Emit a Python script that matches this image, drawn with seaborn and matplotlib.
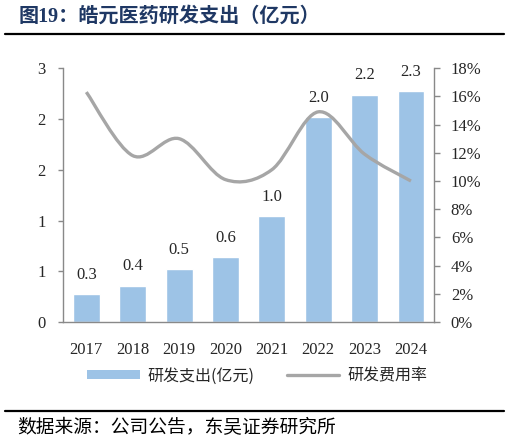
import numpy as np
import pandas as pd
import matplotlib
matplotlib.use("Agg")
import matplotlib.pyplot as plt
import seaborn as sns
from matplotlib.path import Path
from matplotlib.patches import PathPatch, Patch
from matplotlib.lines import Line2D

# data
years = ["2017", "2018", "2019", "2020", "2021", "2022", "2023", "2024"]
rd_spend = [0.28, 0.36, 0.52, 0.64, 1.04, 2.02, 2.24, 2.27]      # 亿元
rd_ratio = [0.163, 0.118, 0.130, 0.101, 0.108, 0.149, 0.119, 0.100]
left_ticks = [0, 0.5, 1.0, 1.5, 2.0, 2.5]
left_tick_labels = ["0", "1", "1", "2", "2", "3"]   # as printed (rounded) in the source
right_ticks = [0, 0.02, 0.04, 0.06, 0.08, 0.10, 0.12, 0.14, 0.16, 0.18]

sns.set_style("white")
plt.rcParams['font.family'] = ['Liberation Serif', 'Noto Sans CJK SC', 'DejaVu Sans']
cjk = ['Noto Sans CJK SC', 'DejaVu Sans']

bar_color = "#9DC3E6"
line_color = "#A6A6A6"
spine_color = "#898989"

df = pd.DataFrame({"year": years, "spend": rd_spend, "ratio": rd_ratio})

fig = plt.figure(figsize=(5.09, 4.45), dpi=100)
ax = fig.add_axes([0.124, 0.276, 0.729, 0.571])

sns.barplot(data=df, x="year", y="spend", color=bar_color, width=0.58,
            saturation=1, ax=ax)
ax.set_xlim(-0.5, 7.5)
ax.set_ylim(0, 2.5)
ax.set_yticks(left_ticks)
ax.set_yticklabels(left_tick_labels)
ax.set_xlabel("")
ax.set_ylabel("")

for i, v in enumerate(rd_spend):
    ax.annotate(f"{v:.1f}", (i, v), xytext=(0, 8), textcoords="offset points",
                ha="center", va="bottom", fontsize=12)

ax2 = ax.twinx()
ax2.set_ylim(0, 0.18)
ax2.set_yticks(right_ticks)
ax2.set_yticklabels([f"{t*100:.0f}%" for t in right_ticks])

# smoothed line (Catmull-Rom style bezier through the points, like Excel)
xs = np.arange(len(years), dtype=float)
ys = np.array(rd_ratio)
verts = [(xs[0], ys[0])]
codes = [Path.MOVETO]
for i in range(len(xs) - 1):
    p0 = (xs[max(i - 1, 0)], ys[max(i - 1, 0)])
    p1 = (xs[i], ys[i])
    p2 = (xs[i + 1], ys[i + 1])
    p3 = (xs[min(i + 2, len(xs) - 1)], ys[min(i + 2, len(xs) - 1)])
    c1 = (p1[0] + (p2[0] - p0[0]) / 6, p1[1] + (p2[1] - p0[1]) / 6)
    c2 = (p2[0] - (p3[0] - p1[0]) / 6, p2[1] - (p3[1] - p1[1]) / 6)
    verts += [c1, c2, p2]
    codes += [Path.CURVE4] * 3
ax2.add_patch(PathPatch(Path(verts, codes), fill=False, edgecolor=line_color,
                        linewidth=2.4, capstyle="butt"))

for a in (ax, ax2):
    for s in a.spines.values():
        s.set_visible(False)
ax.spines["left"].set_visible(True)
ax.spines["bottom"].set_visible(True)
ax2.spines["right"].set_visible(True)
for s in (ax.spines["left"], ax.spines["bottom"], ax2.spines["right"]):
    s.set_color(spine_color)
    s.set_linewidth(1.0)

ax.tick_params(axis="y", which="both", left=True, length=3.5, width=1,
               color=spine_color, pad=9, labelsize=12)
ax.tick_params(axis="x", bottom=False, pad=11, labelsize=12)
ax2.tick_params(axis="y", right=True, length=4, width=1, color=spine_color,
                pad=8, labelsize=12)

# title and rules
fig.text(0.036, 0.962, "图19：皓元医药研发支出（亿元）", fontsize=14.5, fontweight="bold",
         color="#1F3864", va="center", ha="left", family=['Liberation Serif'] + cjk)
fig.add_artist(Line2D([0.01, 0.99], [0.924, 0.924], color="black", linewidth=1.6))
fig.add_artist(Line2D([0.01, 0.99], [0.077, 0.077], color="black", linewidth=1.6))

handles = [Patch(facecolor=bar_color, edgecolor="none"),
           Line2D([], [], color=line_color, linewidth=2.4)]
fig.legend(handles, ["研发支出(亿元)", "研发费用率"], loc="center",
           bbox_to_anchor=(0.505, 0.155), ncol=2, frameon=False,
           prop={"family": cjk, "size": 11.5}, handlelength=3.3,
           handleheight=0.5, columnspacing=2.0, handletextpad=0.5)

fig.text(0.033, 0.038, "数据来源：公司公告，东吴证券研究所", fontsize=13.5,
         family=cjk, va="center", ha="left", color="black")

fig.savefig("out.png", dpi=100)
